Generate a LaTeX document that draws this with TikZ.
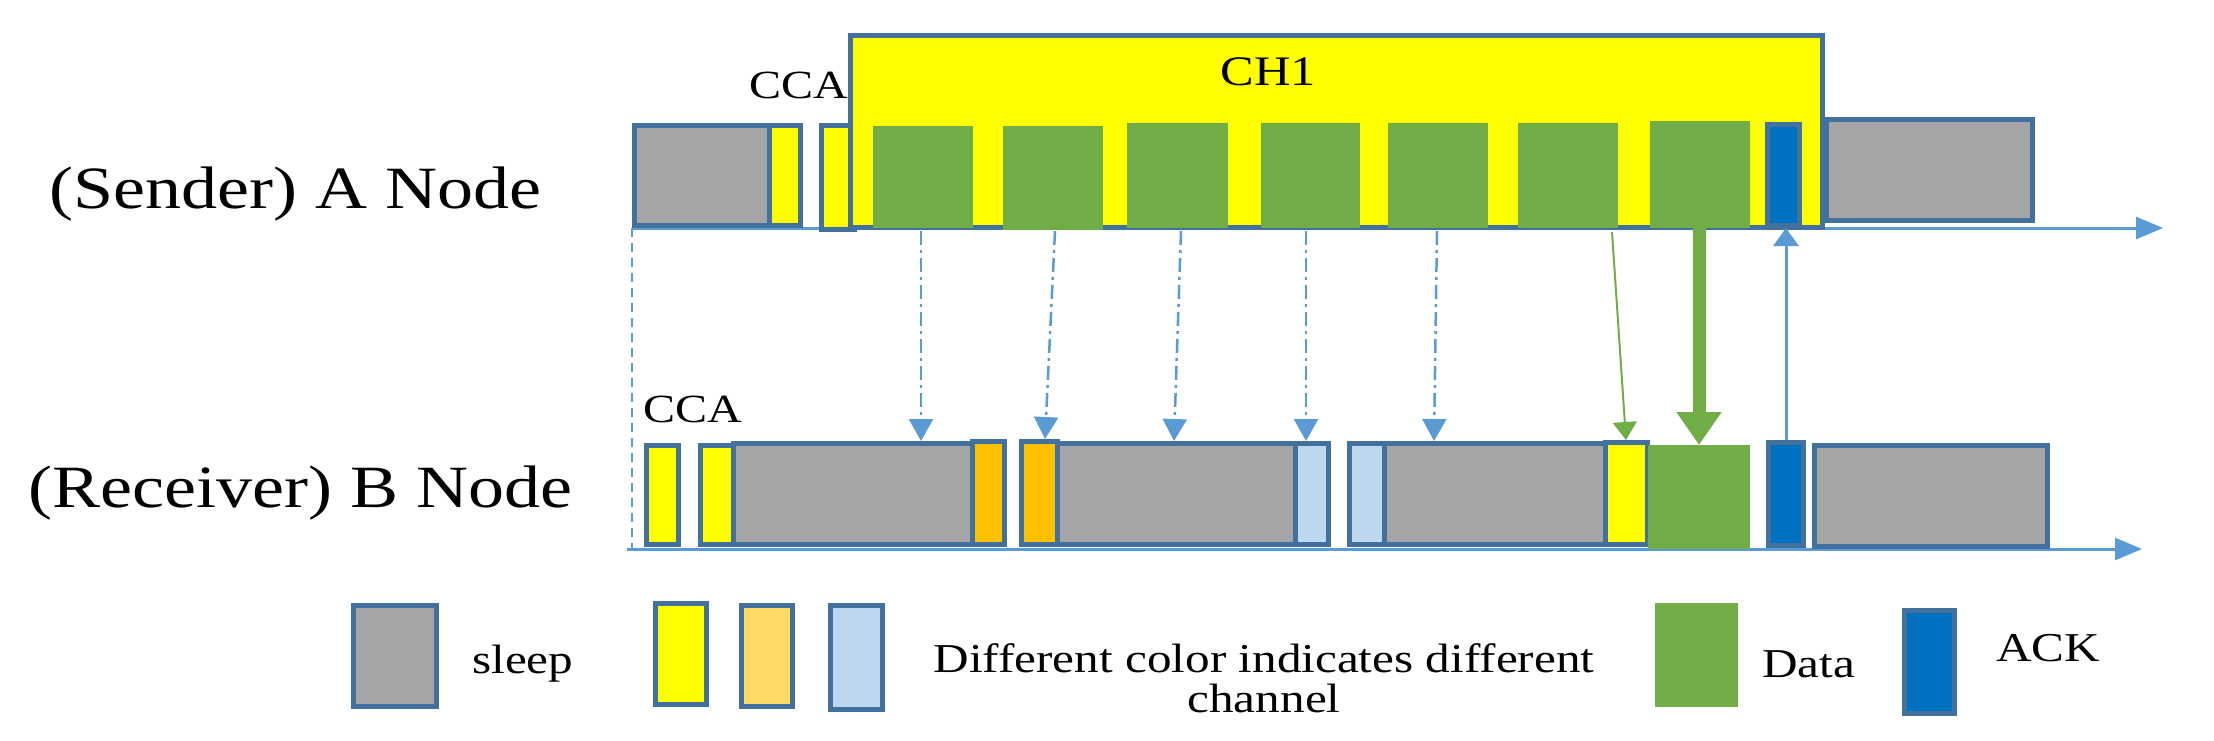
\documentclass[tikz,border=0pt]{standalone}
\usepackage{fontspec}
\setmainfont{Liberation Serif}[FakeStretch=1.2]
\usetikzlibrary{arrows.meta}

\definecolor{edgeblue}{HTML}{41719C}
\definecolor{lineblue}{HTML}{5B9BD5}
\definecolor{slpgray}{HTML}{A5A5A5}
\definecolor{chyellow}{HTML}{FFFF00}
\definecolor{chorange}{HTML}{FFC000}
\definecolor{lgorange}{HTML}{FFD966}
\definecolor{chblue}{HTML}{BDD7EE}
\definecolor{datagreen}{HTML}{70AD47}
\definecolor{ackblue}{HTML}{0070C0}

\tikzset{
	slot/.style={draw=edgeblue, line width=5pt, inner sep=0pt, anchor=north west},
	sleepbox/.style={slot, fill=slpgray},
	ycha/.style={slot, fill=chyellow},
	ochb/.style={slot, fill=chorange},
	bchc/.style={slot, fill=chblue},
	ackbox/.style={slot, fill=ackblue},
	databox/.style={fill=datagreen, inner sep=0pt, outer sep=0pt, anchor=north west},
	nlabel/.style={inner sep=0pt, anchor=base west, font=\fontsize{60}{72}\selectfont},
	smalltxt/.style={inner sep=0pt, anchor=base, font=\fontsize{40}{48}\selectfont},
	legtxt/.style={inner sep=0pt, anchor=base west, font=\fontsize{41}{40}\selectfont},
	axis/.style={lineblue, line width=3pt, -{Triangle[width=22pt,length=27pt]}},
	sync/.style={lineblue, line width=2.5pt, dash pattern=on 14pt off 5pt on 3pt off 5pt,
		-{Triangle[width=24pt,length=22pt]}}
}

\begin{document}
\begin{tikzpicture}[x=1pt, y=-1pt]
	\useasboundingbox (0,0) rectangle (2214,740);

	% time axes
	\coordinate (a0) at (632,228);
	\coordinate (a1) at (2163,228);
	\coordinate (b0) at (627,549);
	\coordinate (b1) at (2142,549);
	\draw [axis] (a0) -- (a1);
	\draw [axis] (b0) -- (b1);
	\draw [lineblue, line width=2pt, dash pattern=on 9pt off 6pt] (a0) -- (a0 |- b0);

	% (Sender) A Node
	\node [nlabel] (sender) at (49,208) {(Sender) A Node};
	\node [sleepbox, minimum width=135pt, minimum height=100pt] (asl1) at (632,123) {};
	\node [ycha, minimum width=31pt, minimum height=100pt] (acca1) at (767,123) {};
	\node [ycha, minimum width=33pt, minimum height=104pt] (acca2) at (819,123) {};
	\node [smalltxt] (ccaa) at (799,98) {CCA};
	\node [ycha, minimum width=972pt, minimum height=192pt] (ach1) at (848,33) {};
	\node [smalltxt, font=\fontsize{42}{48}\selectfont] (tch1) at (1268,85) {CH1};
	\foreach \x/\w/\t/\h [count=\i] in {873/100/126/102, 1003/100/126/104, 1127/101/123/105,
		1261/99/123/105, 1388/100/123/105, 1518/100/123/105, 1650/100/121/107}
		\node [databox, minimum width=\w pt, minimum height=\h pt] (ad\i) at (\x,\t) {};
	\node [ackbox, minimum width=32pt, minimum height=101pt] (aack) at (1765,122) {};
	\node [sleepbox, minimum width=206pt, minimum height=101pt] (asl2) at (1824,117) {};

	% (Receiver) B Node
	\node [nlabel] (receiver) at (28,507) {(Receiver) B Node};
	\node [smalltxt] (ccab) at (693,422) {CCA};
	\node [ycha, minimum width=32pt, minimum height=99pt] (bcca1) at (644,443) {};
	\node [sleepbox, minimum width=239pt, minimum height=101pt] (bsl1) at (731,441) {};
	\node [ycha, minimum width=33pt, minimum height=99pt] (bcca2) at (698,443) {};
	\node [ochb, minimum width=32pt, minimum height=103pt] (bch2a) at (970,439) {};
	\node [sleepbox, minimum width=238pt, minimum height=101pt] (bsl2) at (1055,441) {};
	\node [ochb, minimum width=36pt, minimum height=103pt] (bch2b) at (1019,439) {};
	\node [bchc, minimum width=33pt, minimum height=101pt] (bch3a) at (1293,441) {};
	\node [sleepbox, minimum width=221pt, minimum height=101pt] (bsl3) at (1382,441) {};
	\node [bchc, minimum width=35pt, minimum height=101pt] (bch3b) at (1347,441) {};
	\node [ycha, minimum width=42pt, minimum height=102pt] (bcca3) at (1603,440) {};
	\node [databox, minimum width=102pt, minimum height=104pt] (bdata) at (1648,445) {};
	\node [ackbox, minimum width=35pt, minimum height=103pt] (back) at (1766,440) {};
	\node [sleepbox, minimum width=233pt, minimum height=101pt] (bsl4) at (1812,443) {};

	% A -> B
	\foreach \u/\v/\n [count=\i] in {921/921/bsl1, 1055/1045/bch2b, 1181/1174/bsl2,
		1306/1306/bch3a, 1437/1434/bsl3}
	{
		\coordinate (s\i) at (\u,231);
		\draw [sync] (s\i) -- (\v,0 |- \n.north);
	}
	\coordinate (g1) at (1612,232);
	\draw [datagreen, line width=2pt, -{Triangle[width=24pt,length=18pt]}] (g1) -- (1626,0 |- bcca3.north);
	\coordinate (g2) at (bdata.north |- a0);
	\draw [datagreen, line width=13pt, -{Triangle[width=43pt,length=33pt]}] (g2) -- (bdata.north);
	% B -> A
	\coordinate (ackin) at (back.north |- a0);
	\draw [lineblue, line width=3pt, -{Triangle[width=25pt,length=18pt]}] (back.north) -- (ackin);

	% legend
	\node [sleepbox, minimum width=83pt, minimum height=101pt] (lsl) at (351,603) {};
	\node [legtxt] (tsl) at (472,673) {sleep};
	\node [ycha, minimum width=51pt, minimum height=101pt] (lch1) at (653,601) {};
	\node [slot, fill=lgorange, minimum width=51pt, minimum height=101pt] (lch2) at (739,603) {};
	\node [bchc, minimum width=52pt, minimum height=104pt] (lch3) at (828,603) {};
	\node [legtxt, anchor=base, align=center] (tch) at (1264,712) {Different color indicates different\\channel};
	\node [databox, minimum width=83pt, minimum height=104pt] (ldata) at (1655,603) {};
	\node [legtxt] (tdata) at (1762,677) {Data};
	\node [ackbox, minimum width=50pt, minimum height=103pt] (lack) at (1902,608) {};
	\node [legtxt] (tack) at (1996,661) {ACK};
\end{tikzpicture}
\end{document}
